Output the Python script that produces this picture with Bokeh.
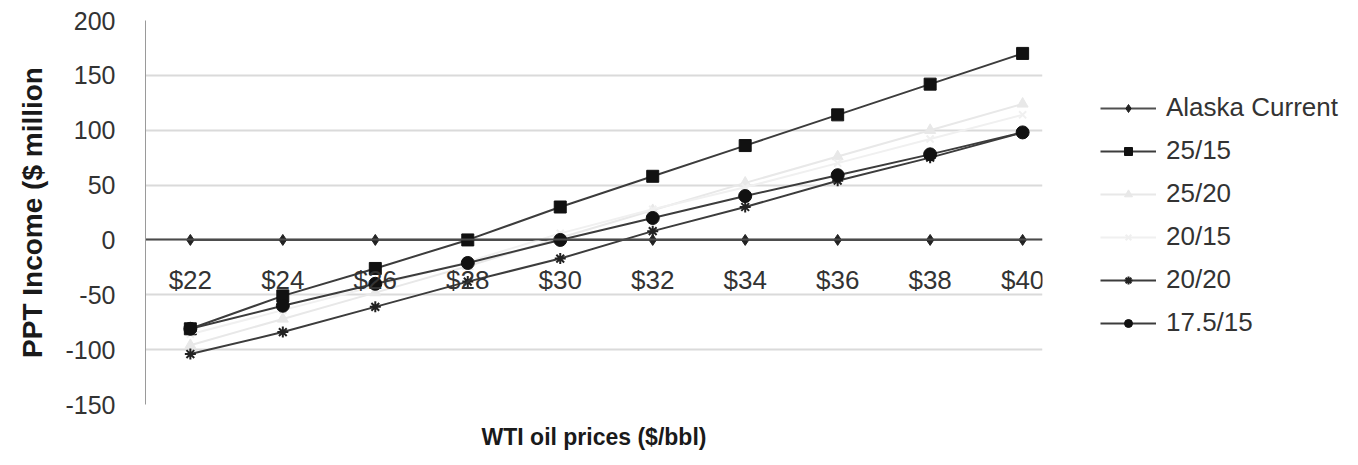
from bokeh.plotting import figure
from bokeh.models import Range1d, FixedTicker, Legend, LegendItem, Title
from bokeh.embed import file_html
from bokeh.resources import INLINE

# ---- data ----
prices = [22, 24, 26, 28, 30, 32, 34, 36, 38, 40]
price_labels = ["$22", "$24", "$26", "$28", "$30", "$32", "$34", "$36", "$38", "$40"]
alaska_current = [0, 0, 0, 0, 0, 0, 0, 0, 0, 0]
s25_15 = [-81, -51, -26, 0, 30, 58, 86, 114, 142, 170]
s25_20 = [-96, -72, -48, -24, 2, 27, 52, 76, 100, 124]
s20_15 = [-86, -64, -42, -20, 6, 28, 48, 70, 92, 114]
s20_20 = [-104, -84, -61, -38, -17, 8, 30, 54, 75, 98]
s17_5_15 = [-81, -60, -40, -21, 0, 20, 40, 59, 78, 98]
y_ticks = [-150, -100, -50, 0, 50, 100, 150, 200]
y_tick_labels = ["-150", "-100", "-50", "0", "50", "100", "150", "200"]
series_names = ["Alaska Current", "25/15", "25/20", "20/15", "20/20", "17.5/15"]

FONT = "Liberation Sans"

p = figure(frame_width=897, frame_height=384,
           x_range=Range1d(21.03, 40.43), y_range=Range1d(-150, 200),
           output_backend="svg", toolbar_location=None,
           min_border_left=145, min_border_right=316,
           min_border_top=20, min_border_bottom=61,
           background_fill_color="white", border_fill_color="white")
p.outline_line_color = None

# grid
p.xgrid.visible = False
p.ygrid.ticker = FixedTicker(ticks=y_ticks)
p.ygrid.grid_line_color = "#dadada"
p.ygrid.grid_line_width = 2

# y axis
p.yaxis.ticker = FixedTicker(ticks=y_ticks)
p.yaxis.major_label_overrides = {t: lab for t, lab in zip(y_ticks, y_tick_labels)}
p.yaxis.axis_line_color = "#9a9a9a"
p.yaxis.axis_line_width = 1
p.yaxis.major_tick_line_color = None
p.yaxis.minor_tick_line_color = None
p.yaxis.major_label_text_font = FONT
p.yaxis.major_label_text_font_size = "25px"
p.yaxis.major_label_text_color = "#333333"
p.yaxis.major_label_standoff = 24
p.yaxis.axis_label = "PPT Income ($ million"
p.yaxis.axis_label_text_font = FONT
p.yaxis.axis_label_text_font_size = "28px"
p.yaxis.axis_label_text_font_style = "bold"
p.yaxis.axis_label_text_color = "#1a1a1a"
p.yaxis.axis_label_standoff = 14

# x axis crossing at zero
p.xaxis.fixed_location = 0
p.xaxis.ticker = FixedTicker(ticks=prices)
p.xaxis.major_label_overrides = {x: lab for x, lab in zip(prices, price_labels)}
p.xaxis.axis_line_color = "#4a4a4a"
p.xaxis.axis_line_width = 2
p.xaxis.major_tick_line_color = None
p.xaxis.minor_tick_line_color = None
p.xaxis.major_label_text_font = FONT
p.xaxis.major_label_text_font_size = "26px"
p.xaxis.major_label_text_color = "#333333"
p.xaxis.major_label_standoff = 19

p.add_layout(Title(text="WTI oil prices ($/bbl)", align="center", standoff=34,
                   text_font=FONT, text_font_size="23px", text_font_style="bold",
                   text_color="#1a1a1a"), "below")

dark = "#3c3c3c"
faint = "#e8e8e8"
items = []

r0l = p.line(prices, alaska_current, line_color="#505050", line_width=2)
r0m = p.scatter(prices, alaska_current, marker="diamond", size=11, color="#222222")
items.append(LegendItem(label=series_names[0], renderers=[r0l, r0m]))

r1l = p.line(prices, s25_15, line_color=dark, line_width=2)
r1m = p.scatter(prices, s25_15, marker="square", size=12, color="#111111")
items.append(LegendItem(label=series_names[1], renderers=[r1l, r1m]))

r2l = p.line(prices, s25_20, line_color=faint, line_width=2)
r2m = p.scatter(prices, s25_20, marker="triangle", size=11, color=faint)
items.append(LegendItem(label=series_names[2], renderers=[r2l, r2m]))

r3l = p.line(prices, s20_15, line_color="#f0f0f0", line_width=2)
r3m = p.scatter(prices, s20_15, marker="x", size=10, line_color="#f0f0f0", line_width=2)
items.append(LegendItem(label=series_names[3], renderers=[r3l, r3m]))

r4l = p.line(prices, s20_20, line_color=dark, line_width=2)
r4m = p.scatter(prices, s20_20, marker="asterisk", size=11, line_color="#222222", line_width=2)
items.append(LegendItem(label=series_names[4], renderers=[r4l, r4m]))

r5l = p.line(prices, s17_5_15, line_color=dark, line_width=2)
r5m = p.scatter(prices, s17_5_15, marker="circle", size=13, color="#111111")
items.append(LegendItem(label=series_names[5], renderers=[r5l, r5m]))

legend = Legend(items=items, location=(58, 66),
                label_text_font=FONT, label_text_font_size="26px",
                label_text_color="#333333",
                glyph_width=56, glyph_height=20, label_height=20,
                label_standoff=10, spacing=12, padding=0, margin=0,
                border_line_color=None, background_fill_alpha=0)
p.add_layout(legend, "right")

open("out.html", "w").write(file_html(p, INLINE))
